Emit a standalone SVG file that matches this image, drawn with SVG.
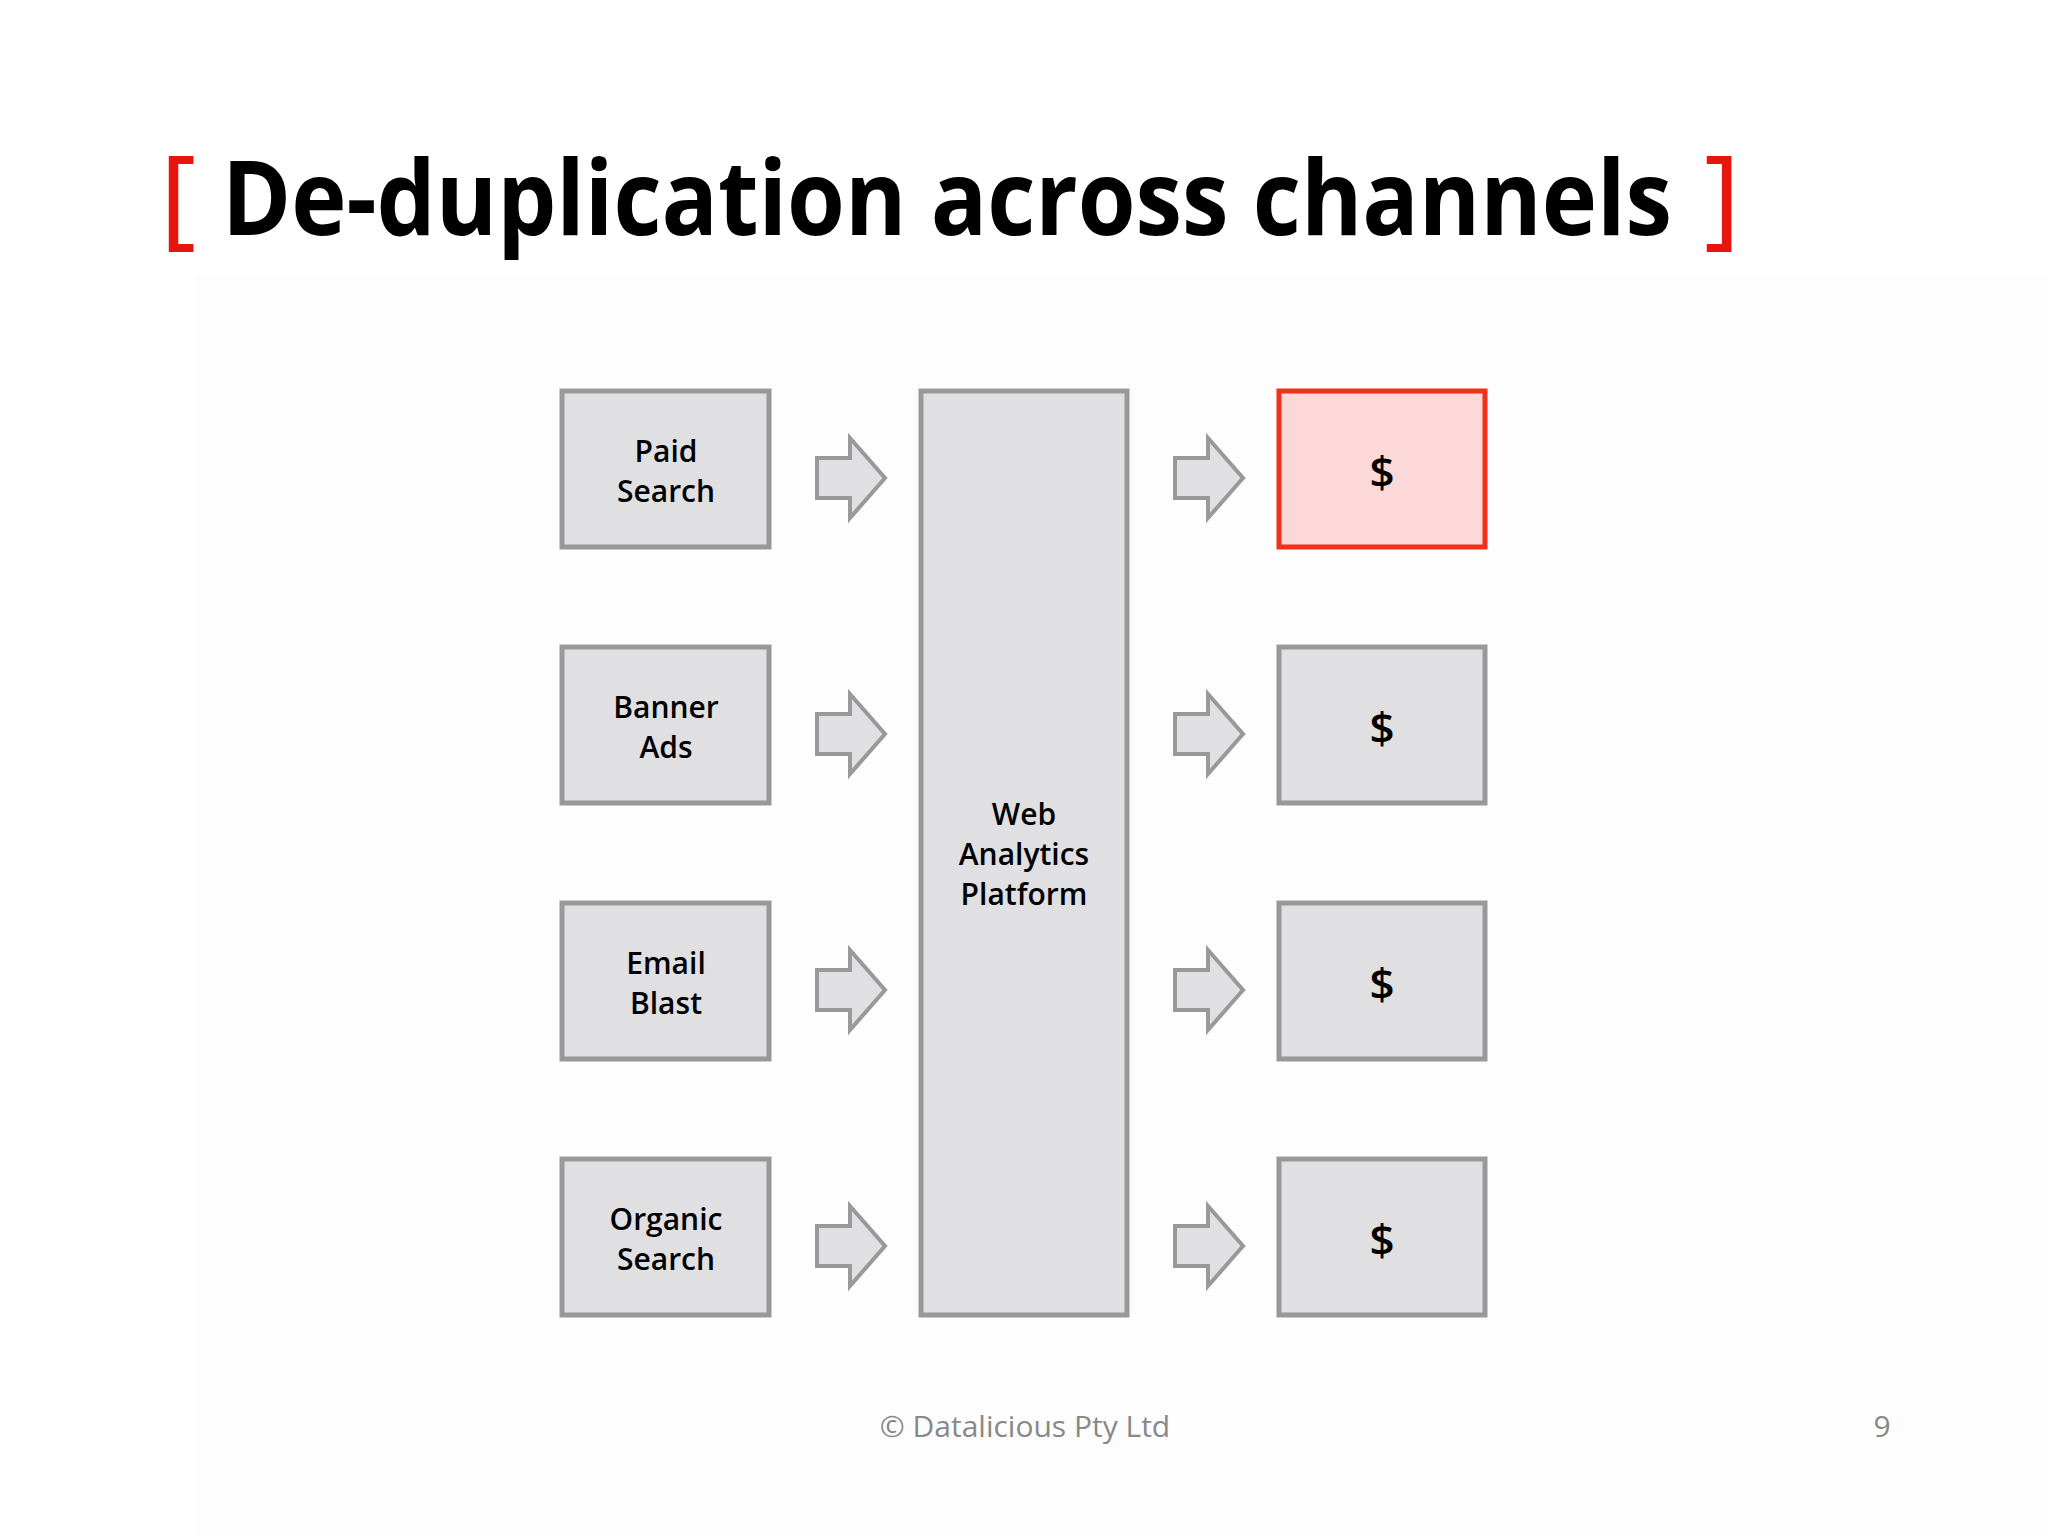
<svg xmlns="http://www.w3.org/2000/svg" width="2048" height="1536" viewBox="0 0 2048 1536">
<style>
.box{fill:#e0dfe2;stroke:#999;stroke-width:5}
.hot{fill:#fdd8d8;stroke:#f0301a;stroke-width:5}
.lbl{font-family:"Open Sans","Noto Sans",sans-serif;font-weight:600;font-size:30px;text-anchor:middle;fill:#000}
.dol{font-family:"Open Sans","Noto Sans",sans-serif;font-weight:600;font-size:44px;text-anchor:middle;fill:#000}
.arr{fill:#e0dfe2;stroke:#999;stroke-width:4;stroke-linejoin:miter}
.br{fill:#e8150f;font-weight:400;font-family:"Noto Sans",sans-serif;font-size:110px}
</style>
<defs>
<path id="ar" class="arr" d="M0,-20 H33 V-40 L68,0 L33,40 V20 H0 Z"/>
</defs>
<rect width="2048" height="1536" fill="#fff"/>
<rect x="196" y="275" width="1852" height="1261" fill="#fdfdfd"/>
<g id="title">
<text y="235" font-family="Open Sans,Noto Sans,sans-serif" font-weight="700" font-size="104" fill="#000"><tspan class="br" x="160">[</tspan><tspan x="222" textLength="1450" lengthAdjust="spacingAndGlyphs">De-duplication across channels</tspan><tspan class="br" x="1704">]</tspan></text>
</g>
<g id="paid"><rect class="box" x="562" y="391" width="207" height="156"/><text class="lbl" x="666" y="462">Paid</text><text class="lbl" x="666" y="502">Search</text></g>
<g id="banner"><rect class="box" x="562" y="647" width="207" height="156"/><text class="lbl" x="666" y="718">Banner</text><text class="lbl" x="666" y="758">Ads</text></g>
<g id="email"><rect class="box" x="562" y="903" width="207" height="156"/><text class="lbl" x="666" y="974">Email</text><text class="lbl" x="666" y="1014">Blast</text></g>
<g id="organic"><rect class="box" x="562" y="1159" width="207" height="156"/><text class="lbl" x="666" y="1230">Organic</text><text class="lbl" x="666" y="1270">Search</text></g>
<g id="platform"><rect class="box" x="921" y="391" width="206" height="924"/><text class="lbl" x="1024" y="825">Web</text><text class="lbl" x="1024" y="865">Analytics</text><text class="lbl" x="1024" y="905">Platform</text></g>
<g id="out1"><rect class="hot" x="1279" y="391" width="206" height="156"/><text class="dol" x="1382" y="488">$</text></g>
<g id="out2"><rect class="box" x="1279" y="647" width="206" height="156"/><text class="dol" x="1382" y="744">$</text></g>
<g id="out3"><rect class="box" x="1279" y="903" width="206" height="156"/><text class="dol" x="1382" y="1000">$</text></g>
<g id="out4"><rect class="box" x="1279" y="1159" width="206" height="156"/><text class="dol" x="1382" y="1256">$</text></g>
<g id="connectors">
<use href="#ar" x="817" y="478"/><use href="#ar" x="817" y="734"/><use href="#ar" x="817" y="990"/><use href="#ar" x="817" y="1246"/>
<use href="#ar" x="1175" y="478"/><use href="#ar" x="1175" y="734"/><use href="#ar" x="1175" y="990"/><use href="#ar" x="1175" y="1246"/>
</g>
<text x="1025" y="1437" font-family="Open Sans,Noto Sans,sans-serif" font-size="30" fill="#888" text-anchor="middle">© Datalicious Pty Ltd</text>
<text x="1882" y="1437" font-family="Open Sans,Noto Sans,sans-serif" font-size="30" fill="#888" text-anchor="middle">9</text>
</svg>
